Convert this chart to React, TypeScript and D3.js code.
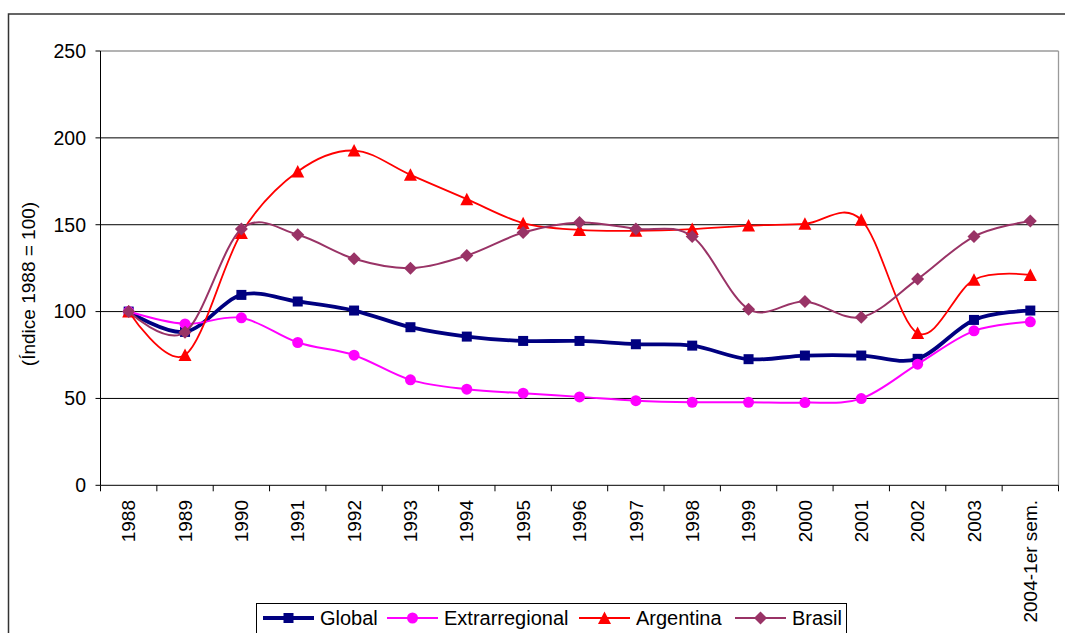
import React from "react";
import * as d3 from "d3";

const categories = ["1988","1989","1990","1991","1992","1993","1994","1995","1996","1997","1998","1999","2000","2001","2002","2003","2004-1er sem."];
const globalVals = [100, 88.3, 109.6, 105.8, 100.6, 91, 85.6, 83.1, 83.1, 81.2, 80.4, 72.6, 74.7, 74.7, 72.8, 95.2, 100.6];
const extraVals = [100, 92.9, 96.4, 82.2, 74.9, 60.7, 55.3, 53, 50.9, 48.7, 47.8, 47.8, 47.6, 49.9, 69.7, 88.9, 94.1];
const argVals = [100, 75, 145.2, 180.6, 192.7, 178.7, 164.7, 150.9, 147, 146.5, 147.5, 149.5, 150.5, 152.8, 87.6, 118.3, 121.1];
const braVals = [100, 88.1, 147.5, 144.2, 130.4, 125, 132.3, 145.5, 151.3, 147.6, 143.2, 101.4, 105.8, 96.8, 118.7, 143.2, 152.2];
const yTicks = [0, 50, 100, 150, 200, 250];
const yTitle = "(Índice 1988 = 100)";

type Marker = "square" | "circle" | "triangle" | "diamond";
const series: { name: string; values: number[]; color: string; width: number; marker: Marker; legendX: number }[] = [
  { name: "Global", values: globalVals, color: "#000080", width: 3.8, marker: "square", legendX: 263 },
  { name: "Extrarregional", values: extraVals, color: "#FF00FF", width: 2, marker: "circle", legendX: 387 },
  { name: "Argentina", values: argVals, color: "#FF0000", width: 1.8, marker: "triangle", legendX: 579 },
  { name: "Brasil", values: braVals, color: "#993366", width: 2, marker: "diamond", legendX: 735 },
];

const FONT = "Arial, 'Liberation Sans', sans-serif";

function MarkerShape({ type, x, y, color }: { type: Marker; x: number; y: number; color: string }) {
  if (type === "square") return <rect x={x - 5} y={y - 5} width={10} height={10} fill={color} />;
  if (type === "circle") return <circle cx={x} cy={y} r={5.5} fill={color} />;
  if (type === "triangle")
    return <path d={`M${x},${y - 6.5}L${x + 6.5},${y + 6}L${x - 6.5},${y + 6}Z`} fill={color} />;
  return <path d={`M${x},${y - 6.5}L${x + 6.5},${y}L${x},${y + 6.5}L${x - 6.5},${y}Z`} fill={color} />;
}

export default function App() {
  const left = 100.5, right = 1058.5, top = 51, bottom = 485.3;
  const x = d3.scaleBand<string>().domain(categories).range([left, right]).padding(0);
  const y = d3.scaleLinear().domain([0, 250]).range([bottom, top]);
  const cx = (c: string) => (x(c) as number) + x.bandwidth() / 2;
  const line = d3
    .line<number>()
    .x((_, i) => cx(categories[i]))
    .y((v) => y(v))
    .curve(d3.curveCardinal.tension(0));
  const boundaries = d3.range(categories.length + 1).map((i) => left + i * x.bandwidth());

  return (
    <svg width={1065} height={633} style={{ position: "absolute", left: 0, top: 0, background: "#fff" }} fontFamily={FONT}>
      <rect x={0} y={0} width={1065} height={633} fill="#fff" />
      {/* outer frame */}
      <rect x={8.5} y={14} width={1070} height={660} fill="none" stroke="#333" strokeWidth={1.5} />
      {/* plot area border (gray) */}
      <line x1={left} x2={right} y1={y(250)} y2={y(250)} stroke="#9a9a9a" strokeWidth={1.3} />
      <line x1={right} x2={right} y1={y(250)} y2={bottom} stroke="#9a9a9a" strokeWidth={1.3} />
      {/* gridlines */}
      {yTicks.filter((t) => t > 0 && t < 250).map((t) => (
        <line key={t} x1={left} x2={right} y1={y(t)} y2={y(t)} stroke="#000" strokeWidth={1} />
      ))}
      {/* axes */}
      <line x1={left} x2={left} y1={top} y2={bottom} stroke="#000" strokeWidth={1} />
      <line x1={left} x2={right} y1={bottom} y2={bottom} stroke="#000" strokeWidth={1} />
      {yTicks.map((t) => (
        <g key={t}>
          <line x1={left - 5} x2={left} y1={y(t)} y2={y(t)} stroke="#000" />
          <text x={86} y={y(t)} dy="0.35em" textAnchor="end" fontSize={19.5} fill="#000">{t}</text>
        </g>
      ))}
      {boundaries.map((b, i) => (
        <line key={i} x1={b} x2={b} y1={bottom} y2={bottom + 6} stroke="#000" />
      ))}
      {categories.map((c) => (
        <text key={c} transform={`translate(${cx(c)},500) rotate(-90)`} textAnchor="end" dy="0.35em" fontSize={19} fill="#000">{c}</text>
      ))}
      <text transform={`translate(28,284) rotate(-90)`} textAnchor="middle" dy="0.35em" fontSize={19} fill="#000">{yTitle}</text>
      {/* series */}
      {series.map((s) => (
        <g key={s.name}>
          <path d={line(s.values) || ""} fill="none" stroke={s.color} strokeWidth={s.width} strokeLinejoin="round" />
          {s.values.map((v, i) => (
            <MarkerShape key={i} type={s.marker} x={cx(categories[i])} y={y(v)} color={s.color} />
          ))}
        </g>
      ))}
      {/* legend */}
      <rect x={256.5} y={603.5} width={590} height={60} fill="#fff" stroke="#000" strokeWidth={1} />
      {series.map((s) => (
        <g key={s.name}>
          <line x1={s.legendX} x2={s.legendX + 51} y1={618} y2={618} stroke={s.color} strokeWidth={s.width} />
          <MarkerShape type={s.marker} x={s.legendX + 25.5} y={618} color={s.color} />
          <text x={s.legendX + 57} y={625} fontSize={20} fill="#000">{s.name}</text>
        </g>
      ))}
    </svg>
  );
}
